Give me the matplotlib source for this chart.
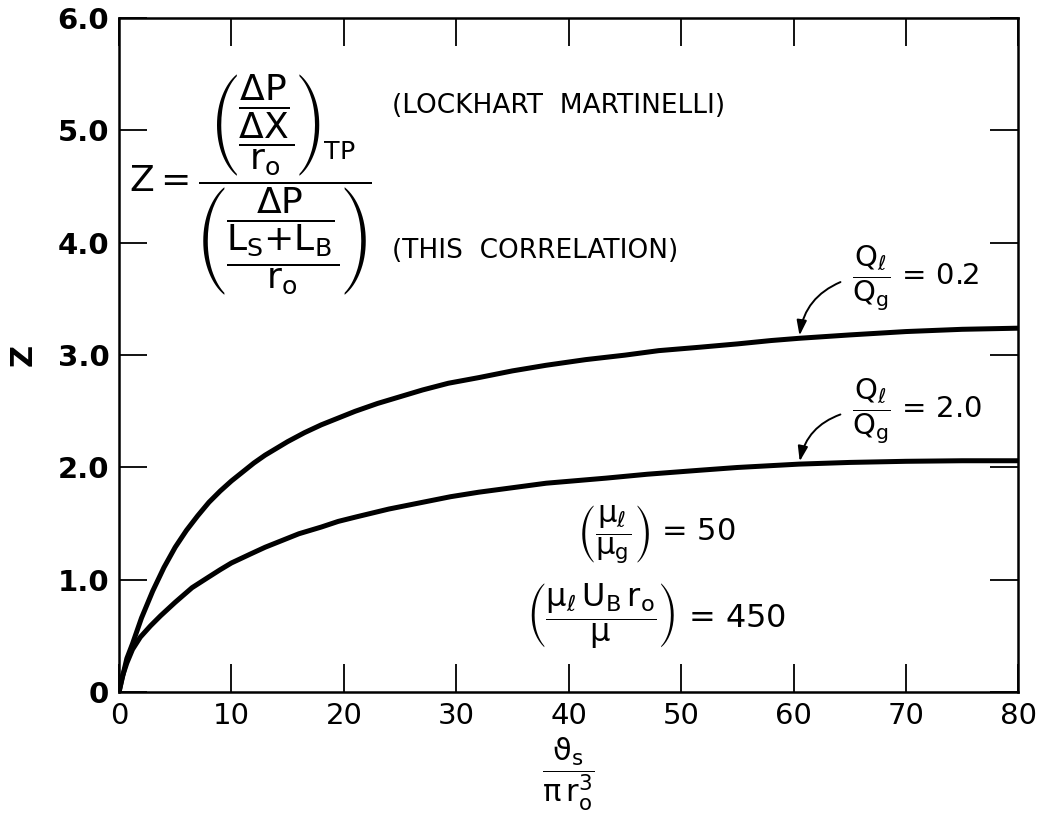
import matplotlib
matplotlib.use('Agg')
import matplotlib.pyplot as plt
from matplotlib.patches import FancyArrowPatch

plt.rcParams['mathtext.fontset'] = 'dejavusans'
plt.rcParams['mathtext.default'] = 'regular'

# --- Data ---
# Q_l/Q_g = 0.2 (upper curve)
x_low_ratio = [0, 0.3, 0.7, 1.2, 2, 3, 4, 5, 6, 7, 8, 9, 10, 11, 12, 13, 14, 15, 16.5,
               18, 19.5, 21, 23, 25, 27, 29.3, 32, 35, 38, 41.5, 45, 48, 51.6, 55, 58,
               60.5, 65, 70, 75, 80]
z_low_ratio = [0, 0.13, 0.30, 0.43, 0.66, 0.90, 1.11, 1.29, 1.44, 1.57, 1.69, 1.79, 1.88,
               1.96, 2.04, 2.11, 2.17, 2.23, 2.31, 2.38, 2.44, 2.50, 2.57, 2.63, 2.69, 2.75,
               2.80, 2.86, 2.91, 2.96, 3.00, 3.04, 3.07, 3.10, 3.13, 3.15, 3.18, 3.21, 3.23,
               3.24]

# Q_l/Q_g = 2.0 (lower curve)
x_high_ratio = [0, 0.3, 0.7, 1.2, 1.9, 2.8, 3.7, 5, 6.5, 7.9, 9, 10, 11.7, 13, 14.5, 16, 18,
                19.5, 21.1, 24, 27, 29.5, 32, 35, 38, 43.3, 47, 51.6, 55, 60.5, 65, 70, 75, 80]
z_high_ratio = [0, 0.14, 0.26, 0.38, 0.49, 0.59, 0.68, 0.80, 0.93, 1.02, 1.09, 1.15, 1.23,
                1.29, 1.35, 1.41, 1.47, 1.52, 1.56, 1.63, 1.69, 1.74, 1.78, 1.82, 1.86, 1.905,
                1.94, 1.975, 2.00, 2.03, 2.045, 2.055, 2.06, 2.06]

x_ticks = [0, 10, 20, 30, 40, 50, 60, 70, 80]
y_ticks = [0, 1, 2, 3, 4, 5, 6]
y_ticklabels = ['0', '1.0', '2.0', '3.0', '4.0', '5.0', '6.0']

fig = plt.figure(figsize=(10.41, 8.24), dpi=100)
ax = fig.add_axes([0.1143, 0.160, 0.864, 0.818])

ax.plot(x_low_ratio, z_low_ratio, color='black', lw=3.6, solid_capstyle='round')
ax.plot(x_high_ratio, z_high_ratio, color='black', lw=3.6, solid_capstyle='round')

ax.set_xlim(0, 80)
ax.set_ylim(0, 6)
ax.set_xticks(x_ticks)
ax.set_xticklabels([str(v) for v in x_ticks], fontsize=21)
ax.set_yticks(y_ticks)
ax.set_yticklabels(y_ticklabels, fontsize=21, fontweight='bold')
ax.tick_params(direction='in', length=20, width=1.3, top=True, right=True, pad=7)
for sp in ax.spines.values():
    sp.set_linewidth(1.8)

ax.set_ylabel('Z', fontsize=22, fontweight='bold', labelpad=14)
ax.set_xlabel(r'$\dfrac{\vartheta_s}{\pi\, r_o^3}$', fontsize=22, labelpad=4)

# formula
ax.text(0.9, 4.52,
        r'$Z=\dfrac{\left(\dfrac{\dfrac{\Delta P}{\Delta X}}{r_o}\right)_{TP}}'
        r'{\left(\dfrac{\dfrac{\Delta P}{{L_S}{+}{L_B}}}{r_o}\right)}$',
        fontsize=26, ha='left', va='center')
ax.text(24.3, 5.22, '(LOCKHART  MARTINELLI)', fontsize=19, ha='left', va='center')
ax.text(24.3, 3.93, '(THIS  CORRELATION)', fontsize=19, ha='left', va='center')

# curve labels with curved arrows
ax.text(65.2, 3.68, r'$\dfrac{Q_\ell}{Q_g}$ = 0.2', fontsize=21, ha='left', va='center')
ax.text(65.2, 2.50, r'$\dfrac{Q_\ell}{Q_g}$ = 2.0', fontsize=21, ha='left', va='center')
for start, tip in [((64.4, 3.66), (60.5, 3.15)), ((64.4, 2.48), (60.5, 2.03))]:
    ax.add_patch(FancyArrowPatch(start, tip, connectionstyle='arc3,rad=0.3',
                                 arrowstyle='-|>,head_length=9,head_width=3',
                                 color='black', lw=1.4))

ax.text(47.8, 1.40, r'$\left(\dfrac{\mu_\ell}{\mu_g}\right)$ = 50', fontsize=22, ha='center', va='center')
ax.text(47.8, 0.68, r'$\left(\dfrac{\mu_\ell\, U_B\, r_o}{\mu}\right)$ = 450', fontsize=23, ha='center', va='center')

plt.savefig('out.png', dpi=100)
